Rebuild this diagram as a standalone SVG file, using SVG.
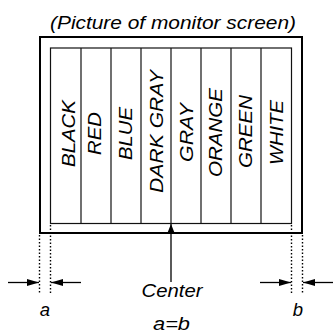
<svg xmlns="http://www.w3.org/2000/svg" width="333" height="332" viewBox="0 0 333 332">
<style>
text{font-family:"Liberation Sans",Arial,sans-serif;font-style:italic;fill:#000;}
.t{font-size:18.5px;}
.lbl{font-size:18.5px;text-anchor:middle;}
.outer{fill:none;stroke:#000;stroke-width:2;}
.stripe{fill:none;stroke:#111;stroke-width:1.2;}
.dot{stroke:#000;stroke-width:1.4;stroke-dasharray:1.5 2;fill:none;}
.ln{stroke:#000;stroke-width:1.3;fill:none;}
</style>
<defs>
<marker id="ah" viewBox="0 0 12 7" refX="12" refY="3.5" markerWidth="12" markerHeight="7" markerUnits="userSpaceOnUse" orient="auto">
<path d="M0,0 L12,3.5 L0,7 Z" fill="#000"/>
</marker>
<marker id="ahc" viewBox="0 0 10 8" refX="10" refY="4" markerWidth="10" markerHeight="8" markerUnits="userSpaceOnUse" orient="auto">
<path d="M0,0 L10,4 L0,8 Z" fill="#000"/>
</marker>
</defs>
<g id="title"><text class="t" x="50" y="28.5" textLength="246" lengthAdjust="spacingAndGlyphs">(Picture of monitor screen)</text></g>
<g id="screen"><rect class="outer" x="40" y="37" width="262" height="196"/></g>
<g id="picture">
<rect class="stripe" x="50.5" y="48" width="241" height="175.5"/>
</g>
<g id="stripe-black"><line class="stripe" x1="81" y1="48" x2="81" y2="223.5"/><text class="lbl" transform="translate(74.5,133.5) rotate(-90)" textLength="67" lengthAdjust="spacingAndGlyphs">BLACK</text></g>
<g id="stripe-red"><line class="stripe" x1="111" y1="48" x2="111" y2="223.5"/><text class="lbl" transform="translate(100.5,133.5) rotate(-90)" textLength="43" lengthAdjust="spacingAndGlyphs">RED</text></g>
<g id="stripe-blue"><line class="stripe" x1="141" y1="48" x2="141" y2="223.5"/><text class="lbl" transform="translate(131.5,133.5) rotate(-90)" textLength="53" lengthAdjust="spacingAndGlyphs">BLUE</text></g>
<g id="stripe-darkgray"><line class="stripe" x1="171" y1="48" x2="171" y2="223.5"/><text class="lbl" transform="translate(162.5,131.5) rotate(-90)" textLength="123" lengthAdjust="spacingAndGlyphs">DARK GRAY</text></g>
<g id="stripe-gray"><line class="stripe" x1="201" y1="48" x2="201" y2="223.5"/><text class="lbl" transform="translate(192.5,132.5) rotate(-90)" textLength="59" lengthAdjust="spacingAndGlyphs">GRAY</text></g>
<g id="stripe-orange"><line class="stripe" x1="231" y1="48" x2="231" y2="223.5"/><text class="lbl" transform="translate(221.5,132.5) rotate(-90)" textLength="89" lengthAdjust="spacingAndGlyphs">ORANGE</text></g>
<g id="stripe-green"><line class="stripe" x1="261" y1="48" x2="261" y2="223.5"/><text class="lbl" transform="translate(251.5,131.5) rotate(-90)" textLength="73" lengthAdjust="spacingAndGlyphs">GREEN</text></g>
<g id="stripe-white"><text class="lbl" transform="translate(282.5,132.5) rotate(-90)" textLength="65" lengthAdjust="spacingAndGlyphs">WHITE</text></g>
<g id="connectors">
<line class="dot" x1="39.5" y1="235" x2="39.5" y2="294"/>
<line class="dot" x1="50.5" y1="225" x2="50.5" y2="294"/>
<line class="dot" x1="291.5" y1="225" x2="291.5" y2="294"/>
<line class="dot" x1="302.5" y1="235" x2="302.5" y2="294"/>
<line class="ln" x1="8" y1="282.5" x2="39" y2="282.5" marker-end="url(#ah)"/>
<line class="ln" x1="81" y1="282.5" x2="51" y2="282.5" marker-end="url(#ah)"/>
<line class="ln" x1="260" y1="282.5" x2="291" y2="282.5" marker-end="url(#ah)"/>
<line class="ln" x1="333" y1="282.5" x2="303" y2="282.5" marker-end="url(#ah)"/>
<line class="ln" x1="171" y1="282" x2="171" y2="224" marker-end="url(#ahc)"/>
</g>
<g id="label-center"><text class="lbl" x="172" y="297" textLength="61" lengthAdjust="spacingAndGlyphs">Center</text></g>
<g id="label-a"><text class="lbl" x="45" y="315.5">a</text></g>
<g id="label-b"><text class="lbl" x="298" y="315.5">b</text></g>
<g id="label-ab"><text class="lbl" x="171.5" y="329.5" textLength="37" lengthAdjust="spacingAndGlyphs">a=b</text></g>
</svg>
